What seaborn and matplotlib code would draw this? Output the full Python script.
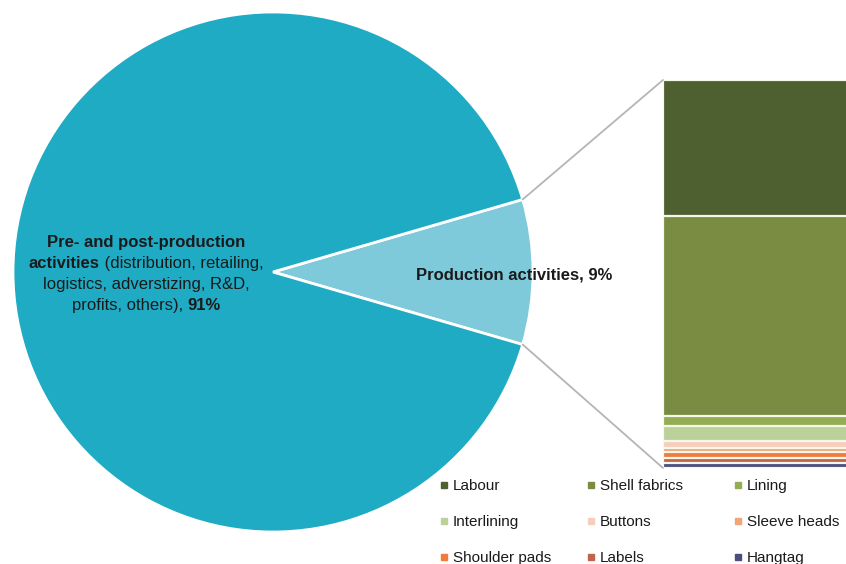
import numpy as np
import pandas as pd
import matplotlib
matplotlib.use("Agg")
import matplotlib.pyplot as plt
import seaborn as sns
from matplotlib.lines import Line2D
from matplotlib.patches import ConnectionPatch
from matplotlib.offsetbox import TextArea, HPacker, VPacker, AnnotationBbox

# ---- data ----
pie_labels = ["Production activities", "Pre- and post-production activities"]
pie_values = [9, 91]
pie_colors = ["#7ecadb", "#1fabc4"]

components = ["Labour", "Shell fabrics", "Lining", "Interlining", "Buttons",
              "Sleeve heads", "Shoulder pads", "Labels", "Hangtag"]
shares = [35.0, 51.5, 2.8, 3.8, 1.8, 1.1, 1.3, 1.4, 1.3]
comp_colors = ["#4f6030", "#7a8c42", "#94ad52", "#bcd09a", "#f6cfbb",
               "#f3a477", "#ef7b3d", "#c0654a", "#4a4f7f"]

sns.set_theme(style="white")
plt.rcParams["font.family"] = ["Liberation Sans", "DejaVu Sans"]

W, H = 846, 564
fig = plt.figure(figsize=(W / 100, H / 100), dpi=100)
ax = fig.add_axes([0, 0, 1, 1])

wedges, _ = ax.pie(pie_values, colors=pie_colors, startangle=-pie_values[0] / 100 * 180,
                   center=(273, 272), radius=260, counterclock=True,
                   wedgeprops=dict(edgecolor="white", linewidth=2))
ax.set_xlim(0, W)
ax.set_ylim(H, 0)
ax.set_aspect("equal")
ax.axis("off")

txtc = "#1a1a1a"
fs = 12
ax.text(416, 275, f"{pie_labels[0]}, {pie_values[0]}%", fontsize=fs, fontweight="bold",
        color=txtc, ha="left", va="center")

bold = dict(fontsize=fs, fontweight="bold", color=txtc)
norm = dict(fontsize=fs, color=txtc)
lines = [
    HPacker(children=[TextArea("Pre- and post-production", textprops=bold)], pad=0, sep=0),
    HPacker(children=[TextArea("activities", textprops=bold),
                      TextArea(" (distribution, retailing,", textprops=norm)], pad=0, sep=0),
    HPacker(children=[TextArea("logistics, adverstizing, R&D,", textprops=norm)], pad=0, sep=0),
    HPacker(children=[TextArea("profits, others), ", textprops=norm),
                      TextArea(f"{pie_values[1]}%", textprops=bold)], pad=0, sep=0),
]
vbox = VPacker(children=lines, align="center", pad=0, sep=4.5)
ab = AnnotationBbox(vbox, (146, 274), xycoords="data", frameon=False, box_alignment=(0.5, 0.5))
ax.add_artist(ab)

# ---- stacked bar ----
ax2 = fig.add_axes([663 / W, (H - 468) / H, 1 - 663 / W + 0.02, 388 / H])
total = sum(shares)
cum = np.cumsum(shares[::-1])[::-1]  # cumulative height from the bottom for each component
df = pd.DataFrame({"stage": ["Production"] * len(components), "component": components,
                   "cum": cum, "color": comp_colors})
for _, row in df.iterrows():
    sns.barplot(x=[row["stage"]], y=[row["cum"]], color=row["color"], width=1.0,
                edgecolor="#f4f7ea", linewidth=1.6, saturation=1, ax=ax2)
ax2.set_xlim(-0.5, 0.5)
ax2.set_ylim(0, total)
ax2.axis("off")

# connector lines
w = wedges[0]
cx, cy = w.center
for ang, yA in [(w.theta1, 1), (w.theta2, 0)]:
    px = cx + w.r * np.cos(np.radians(ang))
    py = cy + w.r * np.sin(np.radians(ang))
    con = ConnectionPatch(xyA=(0, yA), coordsA=ax2.transAxes, xyB=(px, py), coordsB=ax.transData,
                          color="#b5b5b5", lw=1.3)
    fig.add_artist(con)

# ---- legend (3 columns, row-wise order) ----
lfs = 11
col_x = [439, 586, 733]
for c in range(3):
    idx = [c, c + 3, c + 6]
    handles = [Line2D([], [], marker="s", ls="", color=comp_colors[i], markersize=4.5) for i in idx]
    labels = [components[i] for i in idx]
    fig.legend(handles, labels, loc="upper left", bbox_to_anchor=(col_x[c] / W, 1 - 479 / H),
               frameon=False, fontsize=lfs, handlelength=0.6, handletextpad=0.3,
               labelspacing=1.45, borderpad=0, borderaxespad=0, labelcolor=txtc)

fig.savefig("out.png", dpi=100)
